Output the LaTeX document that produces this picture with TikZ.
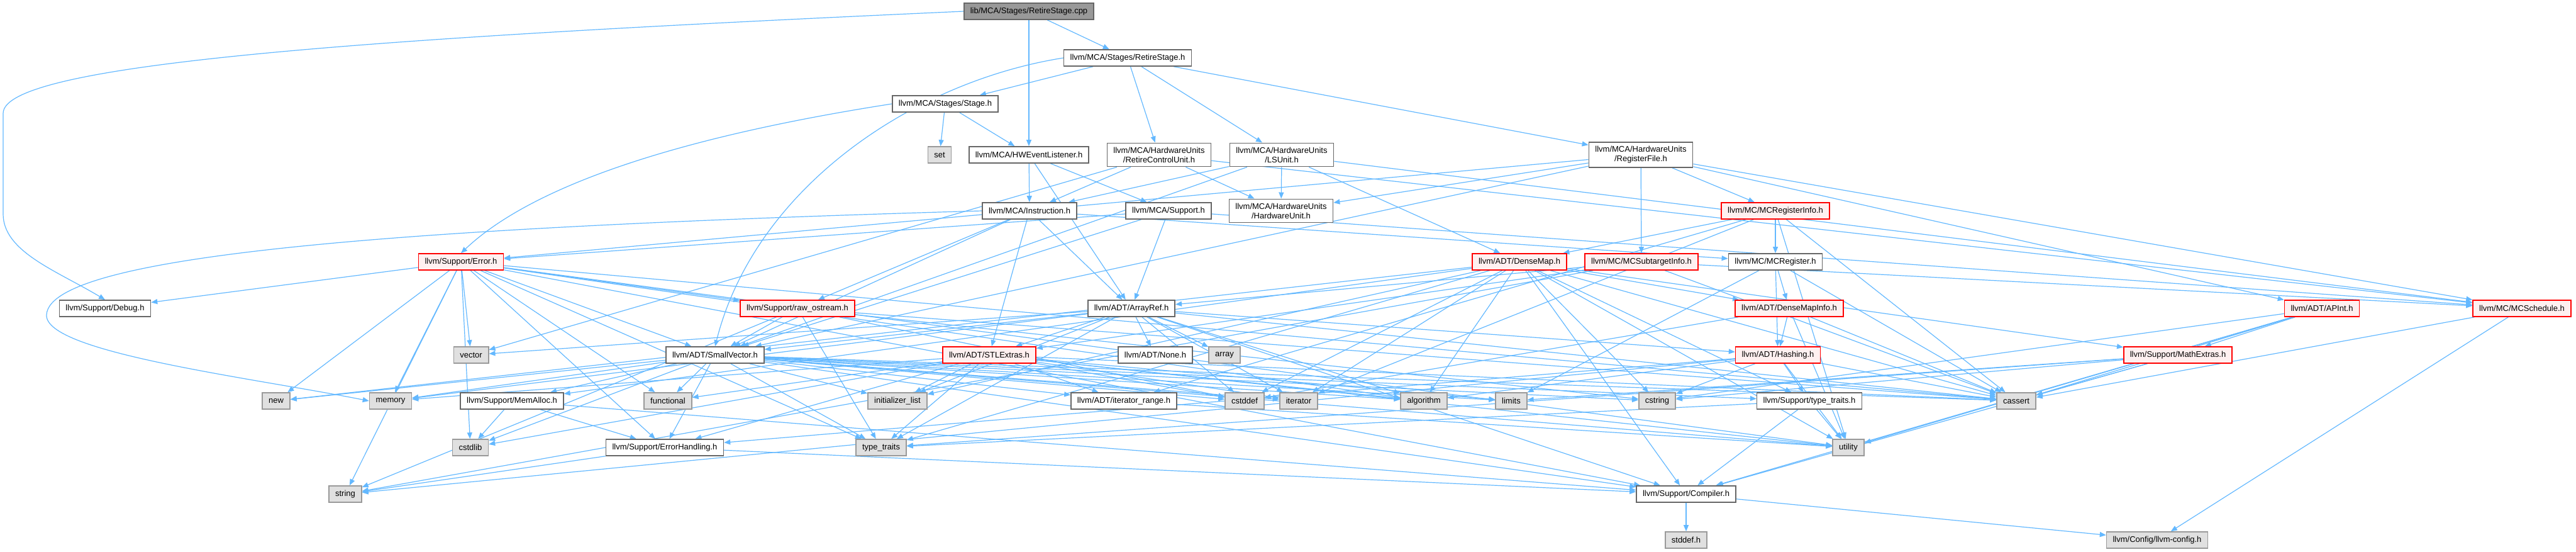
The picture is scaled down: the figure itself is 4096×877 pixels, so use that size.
\documentclass[tikz,border=0pt]{standalone}
\usepackage{fontspec}
\setmainfont{Liberation Sans}
\usetikzlibrary{arrows.meta}
\usetikzlibrary{positioning}
\definecolor{fg}{rgb}{0,0,0}
\definecolor{edgeblue}{HTML}{63B8FF}
\definecolor{boxline}{HTML}{666666}
\definecolor{sysfill}{HTML}{E0E0E0}
\definecolor{sysline}{HTML}{999999}
\definecolor{cutfill}{HTML}{FFF0F0}
\definecolor{rootfill}{HTML}{999999}
\pgfdeclarelayer{bg}
\pgfsetlayers{bg,main}
\tikzstyle{box}=[draw=boxline, fill=white, line width=0.8pt, minimum height=13pt,
inner xsep=5pt, inner ysep=3.2pt, align=center, text=fg,
font=\fontsize{6.5}{7.5}\selectfont]
\tikzstyle{sys}=[box, draw=sysline, fill=sysfill]
\tikzstyle{cut}=[box, draw=red, fill=cutfill]
\tikzstyle{root}=[box, fill=rootfill]
\tikzstyle{myarrow}=[-{Triangle[length=5pt,width=4pt]}, draw=edgeblue, line width=0.6pt]

\begin{document}
\begin{tikzpicture}[x=0.5pt, y=-0.5pt]
    \useasboundingbox (0,0) rectangle (4096,877);

    % MCA headers
    \node[root] (cpp) at (1636,18) {lib/MCA/Stages/RetireStage.cpp};
    \node[box] (rsh) at (1793,92) {llvm/MCA/Stages/RetireStage.h};
    \node[box] (stageh) at (1503,165) {llvm/MCA/Stages/Stage.h};
    \node[sys] (set) at (1494,246) {set};
    \node[box] (hwel) at (1636,246) {llvm/MCA/HWEventListener.h};
    \node[box] (rcu) at (1843,246) {llvm/MCA/HardwareUnits\\/RetireControlUnit.h};
    \node[box] (lsu) at (2038,246) {llvm/MCA/HardwareUnits\\/LSUnit.h};
    \node[box] (regfile) at (2609,246) {llvm/MCA/HardwareUnits\\/RegisterFile.h};
    \node[box] (instr) at (1637,335) {llvm/MCA/Instruction.h};
    \node[box] (support) at (1858,335) {llvm/MCA/Support.h};
    \node[box] (hwunit) at (2037,335) {llvm/MCA/HardwareUnits\\/HardwareUnit.h};

    % MC and ADT headers
    \node[cut] (mcreginfo) at (2823,335) {llvm/MC/MCRegisterInfo.h};
    \node[cut] (error) at (733,416) {llvm/Support/Error.h};
    \node[cut] (densemap) at (2416,416) {llvm/ADT/DenseMap.h};
    \node[cut] (mcsti) at (2610,416) {llvm/MC/MCSubtargetInfo.h};
    \node[box] (mcreg) at (2823,416) {llvm/MC/MCRegister.h};
    \node[box] (debug) at (167,490) {llvm/Support/Debug.h};
    \node[cut] (rawos) at (1268,490) {llvm/Support/raw\_ostream.h};
    \node[box] (arrayref) at (1799,490) {llvm/ADT/ArrayRef.h};
    \node[cut] (dmi) at (2845,490) {llvm/ADT/DenseMapInfo.h};
    \node[cut] (apint) at (3692,490) {llvm/ADT/APInt.h};
    \node[cut] (mcsched) at (4010,490) {llvm/MC/MCSchedule.h};
    \node[sys] (vector) at (749,564) {vector};
    \node[box] (smallvec) at (1137,564) {llvm/ADT/SmallVector.h};
    \node[cut] (stlextras) at (1573,564) {llvm/ADT/STLExtras.h};
    \node[box] (none) at (1837,564) {llvm/ADT/None.h};
    \node[sys] (array) at (1947,564) {array};
    \node[cut] (hashing) at (2827,564) {llvm/ADT/Hashing.h};
    \node[cut] (mathext) at (3463,564) {llvm/Support/MathExtras.h};

    % leaves
    \node[sys] (new) at (439,637) {new};
    \node[sys] (memory) at (621,637) {memory};
    \node[box] (memalloc) at (814,637) {llvm/Support/MemAlloc.h};
    \node[sys] (functional) at (1062,637) {functional};
    \node[sys] (initlist) at (1427,637) {initializer\_list};
    \node[box] (itrange) at (1787,637) {llvm/ADT/iterator\_range.h};
    \node[sys] (cstddef) at (1979,637) {cstddef};
    \node[sys] (iterator) at (2065,637) {iterator};
    \node[sys] (algorithm) at (2264,637) {algorithm};
    \node[sys] (limits) at (2403,637) {limits};
    \node[sys] (cstring) at (2635,637) {cstring};
    \node[box] (suptt) at (2877,637) {llvm/Support/type\_traits.h};
    \node[sys] (cassert) at (3206,637) {cassert};
    \node[sys] (cstdlib) at (748,711) {cstdlib};
    \node[box] (errhand) at (1057,711) {llvm/Support/ErrorHandling.h};
    \node[sys] (typetraits) at (1401,711) {type\_traits};
    \node[sys] (utility) at (2939,711) {utility};
    \node[sys] (string) at (549,785) {string};
    \node[box] (compiler) at (2681,785) {llvm/Support/Compiler.h};
    \node[sys] (stddef) at (2681,858) {stddef.h};
    \node[sys] (config) at (3430,858) {llvm/Config/llvm-config.h};

    \begin{pgfonlayer}{bg}
    \foreach \t in {rsh,hwel} \draw[myarrow] (cpp) -- (\t);
    \draw[myarrow] (cpp.west) .. controls (600,60) and (5,100) .. (5,180) -- (5,340)
        .. controls (5,400) and (90,430) .. (debug.north);

    \foreach \t in {stageh,rcu,lsu,regfile} \draw[myarrow] (rsh) -- (\t);
    \draw[myarrow] (rsh.west) .. controls (1450,130) and (1200,300) .. (smallvec.north);

    \foreach \t in {set,hwel} \draw[myarrow] (stageh) -- (\t);
    \draw[myarrow] (stageh.west) .. controls (1000,230) and (820,320) .. (error.north);

    \foreach \t in {instr,support,arrayref} \draw[myarrow] (hwel) -- (\t);
    \foreach \t in {instr,hwunit,vector,mcsched} \draw[myarrow] (rcu) -- (\t);
    \foreach \t in {hwunit,instr,densemap,smallvec,mcsched} \draw[myarrow] (lsu) -- (\t);
    \foreach \t in {hwunit,mcsti,mcreginfo,apint,mcsched,smallvec,error}
        \draw[myarrow] (regfile) -- (\t);

    \foreach \t in {arrayref,stlextras,smallvec,mcreg,rawos} \draw[myarrow] (instr) -- (\t);
    \draw[myarrow] (instr.west) .. controls (700,360) and (80,400) .. (74,500)
        .. controls (70,560) and (400,600) .. (memory.west);
    \foreach \t in {arrayref,smallvec,mcsched,error} \draw[myarrow] (support) -- (\t);

    \foreach \t in {densemap,mcreg,itrange,cassert,iterator,utility}
        \draw[myarrow] (mcreginfo) -- (\t);
    \foreach \t in {arrayref,stlextras,mcsched,cassert,string} \draw[myarrow] (mcsti) -- (\t);

    \foreach \t in {debug,vector,new,memory,string,cstdlib,functional,errhand,typetraits,
        smallvec,rawos,compiler,algorithm,cassert,utility}
        \draw[myarrow] (error) -- (\t);
    \foreach \t in {dmi,compiler,mathext,memalloc,suptt,algorithm,cassert,cstddef,cstring,
        initlist,iterator,new,typetraits,utility}
        \draw[myarrow] (densemap) -- (\t);
    \foreach \t in {dmi,hashing,cassert,limits} \draw[myarrow] (mcreg) -- (\t);
    \foreach \t in {smallvec,cassert,cstddef,cstring,string,typetraits}
        \draw[myarrow] (rawos) -- (\t);
    \foreach \t in {hashing,none,smallvec,stlextras,compiler,algorithm,array,cassert,cstddef,
        initlist,iterator,memory,typetraits,vector}
        \draw[myarrow] (arrayref) -- (\t);
    \foreach \t in {hashing,cassert,cstddef,utility} \draw[myarrow] (dmi) -- (\t);
    \foreach \t in {compiler,mathext,cassert,cstring,utility} \draw[myarrow] (apint) -- (\t);
    \foreach \t in {config,cassert} \draw[myarrow] (mcsched) -- (\t);

    \foreach \t in {itrange,compiler,errhand,memalloc,suptt,algorithm,cassert,cstddef,cstdlib,
        cstring,functional,initlist,iterator,limits,memory,new,typetraits,utility}
        \draw[myarrow] (smallvec) -- (\t);
    \foreach \t in {itrange,errhand,algorithm,cassert,cstddef,cstdlib,functional,initlist,
        iterator,limits,memory,typetraits,utility}
        \draw[myarrow] (stlextras) -- (\t);
    \foreach \t in {errhand,suptt,algorithm,cassert,cstring,string,utility}
        \draw[myarrow] (hashing) -- (\t);
    \foreach \t in {compiler,cassert,cstring,limits,typetraits} \draw[myarrow] (mathext) -- (\t);

    \foreach \t in {cstdlib,errhand,compiler} \draw[myarrow] (memalloc) -- (\t);
    \draw[myarrow] (itrange) -- (utility);
    \foreach \t in {compiler,typetraits,utility} \draw[myarrow] (suptt) -- (\t);
    \foreach \t in {string,compiler} \draw[myarrow] (errhand) -- (\t);
    \foreach \t in {stddef,config} \draw[myarrow] (compiler) -- (\t);
    \end{pgfonlayer}
\end{tikzpicture}
\end{document}
